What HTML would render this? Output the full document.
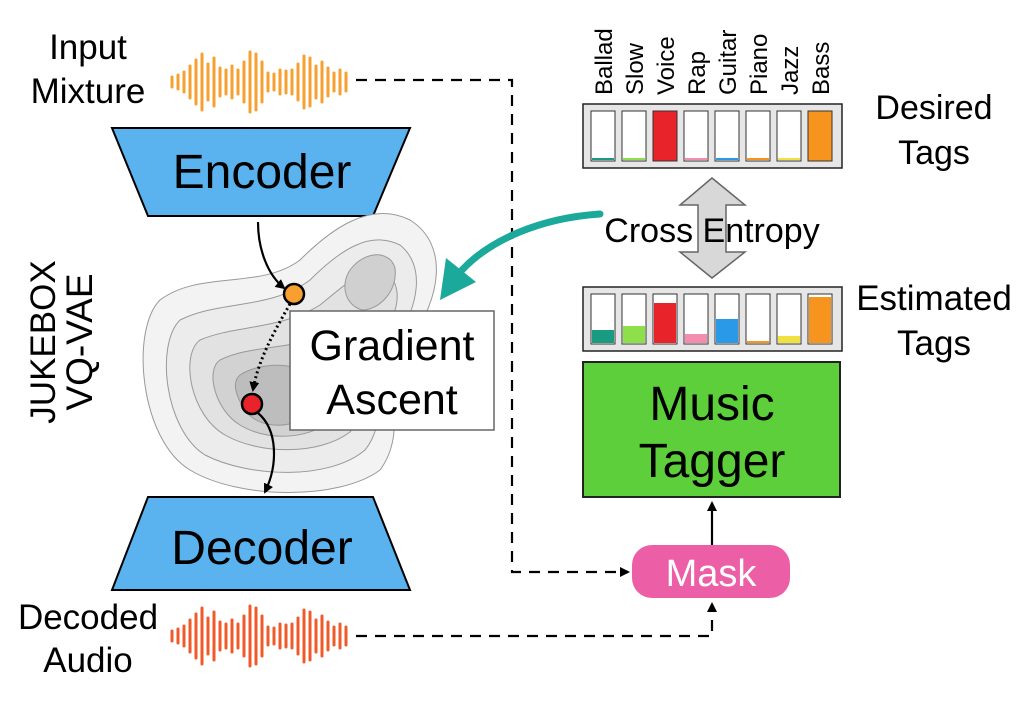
<!DOCTYPE html>
<html><head><meta charset="utf-8"><style>
html,body{margin:0;padding:0;background:#fff;}
svg{display:block;font-family:"Liberation Sans",sans-serif;}
</style></head><body>
<svg width="1020" height="702" viewBox="0 0 1020 702" xmlns="http://www.w3.org/2000/svg">
<defs>
<marker id="ah" markerWidth="10" markerHeight="10" refX="8" refY="5" orient="auto" markerUnits="userSpaceOnUse"><path d="M0,0 L10,5 L0,10 z" fill="#000"/></marker>
</defs>

<g font-size="35" text-anchor="middle">
<text x="88" y="59">Input</text>
<text x="88" y="103">Mixture</text>
<text x="88" y="629">Decoded</text>
<text x="88" y="672">Audio</text>
</g>

<g stroke="#f7a030" stroke-width="3" stroke-linecap="round">
<path d="M172,77v10M178,75v14M184,72v20M190,66v32M196,60v44M202,54v56M208,64v36M214,58v48M220,68v28M226,70v24M232,66v32M238,70v24M244,62v40M250,52v60M256,54v56M262,62v40M268,73v18M274,74v16M280,70v24M286,71v22M292,70v24M298,64v36M304,56v52M310,58v48M316,66v32M322,62v40M328,68v28M334,73v18M340,70v24M346,73v18"/>
</g>
<g stroke="#f05a28" stroke-width="3" stroke-linecap="round">
<path d="M172,631v10M178,629v14M184,626v20M190,620v32M196,614v44M202,608v56M208,618v36M214,612v48M220,622v28M226,624v24M232,620v32M238,624v24M244,616v40M250,606v60M256,608v56M262,616v40M268,627v18M274,628v16M280,624v24M286,625v22M292,624v24M298,618v36M304,610v52M310,612v48M316,620v32M322,616v40M328,622v28M334,627v18M340,624v24M346,627v18"/>
</g>

<g stroke="#000" stroke-width="2.2" fill="none" stroke-dasharray="11,8">
<path d="M356,80 H512 V572 H628" marker-end="url(#ah)"/>
<path d="M356,636 H712 V604" marker-end="url(#ah)"/>
</g>
<path d="M712,545 V503" stroke="#000" stroke-width="2.2" marker-end="url(#ah)"/>

<polygon points="112,128 410,128 373,216 148,216" fill="#5ab2ee" stroke="#000" stroke-width="2"/>
<text x="262" y="188" font-size="48" text-anchor="middle">Encoder</text>
<polygon points="148,497 373,497 410,590 112,590" fill="#5ab2ee" stroke="#000" stroke-width="2"/>
<text x="262" y="564" font-size="48" text-anchor="middle">Decoder</text>

<text transform="translate(55,342) rotate(-90)" font-size="35" text-anchor="middle">JUKEBOX</text>
<text transform="translate(92,342) rotate(-90)" font-size="37" text-anchor="middle">VQ-VAE</text>

<g stroke="#999" stroke-width="1" >
<path d="M160,300 C200,270 260,290 300,260 C330,230 370,200 410,220 C450,245 440,300 410,340 C380,380 410,430 380,470 C340,500 240,500 190,470 C140,440 130,330 160,300 z" fill="#f3f3f3"/>
<path d="M180,320 C220,300 270,310 310,280 C340,250 370,230 400,245 C425,265 420,305 395,340 C370,375 390,420 365,450 C330,480 250,478 205,455 C165,430 155,345 180,320 z" fill="#ececec"/>
<path d="M200,340 C235,325 280,330 320,305 C345,285 370,260 390,275 C405,295 395,320 375,345 C355,370 370,410 350,432 C320,455 260,455 225,435 C190,415 180,355 200,340 z" fill="#e2e2e2"/>
<path d="M220,360 C250,345 290,350 325,335 C345,330 355,345 345,365 C335,385 345,410 325,425 C300,440 265,440 240,425 C215,410 205,370 220,360 z" fill="#d2d2d2"/>
<path d="M240,375 C260,362 295,362 310,375 C322,390 318,410 300,420 C280,430 255,425 245,410 C235,395 232,382 240,375 z" fill="#bdbdbd"/>
<path d="M350,270 C365,250 390,250 395,268 C398,290 380,310 362,310 C345,305 340,285 350,270 z" fill="#d0d0d0"/>
</g>

<path d="M258,222 C258,250 268,275 284,288" stroke="#000" stroke-width="2.2" fill="none" marker-end="url(#ah)"/>
<path d="M290,304 C275,330 258,360 253,390" stroke="#000" stroke-width="3" fill="none" stroke-dasharray="2,3" marker-end="url(#ah)"/>
<path d="M258,413 C278,430 278,465 265,492" stroke="#000" stroke-width="2.2" fill="none" marker-end="url(#ah)"/>
<circle cx="294" cy="294" r="10" fill="#f7a030" stroke="#000" stroke-width="2.5"/>
<circle cx="252" cy="404" r="10" fill="#e8232a" stroke="#000" stroke-width="2.5"/>

<rect x="290" y="311" width="204" height="119" fill="#fff" stroke="#666" stroke-width="1.5"/>
<text x="392" y="360" font-size="43" text-anchor="middle">Gradient</text>
<text x="392" y="414" font-size="43" text-anchor="middle">Ascent</text>

<path d="M600,214 C540,218 490,240 462,270" stroke="#1aa99a" stroke-width="7" fill="none" stroke-linecap="round"/>
<polygon points="440,300 446,258 476,282" fill="#1aa99a"/>

<g font-size="24">
<text transform="translate(612,95) rotate(-90)">Ballad</text>
<text transform="translate(643,95) rotate(-90)">Slow</text>
<text transform="translate(674,95) rotate(-90)">Voice</text>
<text transform="translate(705,95) rotate(-90)">Rap</text>
<text transform="translate(736,95) rotate(-90)">Guitar</text>
<text transform="translate(767,95) rotate(-90)">Piano</text>
<text transform="translate(798,95) rotate(-90)">Jazz</text>
<text transform="translate(829,95) rotate(-90)">Bass</text>
</g>

<rect x="583" y="104" width="259" height="64" fill="#e6e6e6" stroke="#222" stroke-width="1.5"/>
<g stroke="#333" stroke-width="1">
<rect x="591" y="111" width="24" height="50" fill="#fff"/>
<rect x="622" y="111" width="24" height="50" fill="#fff"/>
<rect x="653" y="111" width="24" height="50" fill="#e8232a"/>
<rect x="684" y="111" width="24" height="50" fill="#fff"/>
<rect x="715" y="111" width="24" height="50" fill="#fff"/>
<rect x="746" y="111" width="24" height="50" fill="#fff"/>
<rect x="777" y="111" width="24" height="50" fill="#fff"/>
<rect x="808" y="111" width="24" height="50" fill="#f7941d"/>
</g>
<rect x="592" y="158" width="22" height="2" fill="#1a9a80"/>
<rect x="623" y="158" width="22" height="2" fill="#8ee04a"/>
<rect x="685" y="158" width="22" height="2" fill="#f48cb0"/>
<rect x="716" y="158" width="22" height="2" fill="#2a9ae8"/>
<rect x="747" y="158" width="22" height="2" fill="#f7941d"/>
<rect x="778" y="158" width="22" height="2" fill="#f0e040"/>

<text x="934" y="119" font-size="34" text-anchor="middle">Desired</text>
<text x="934" y="164" font-size="34" text-anchor="middle">Tags</text>

<polygon points="712,178 745,205 726,205 726,252 745,252 712,278 680,252 698,252 698,205 680,205" fill="#d8d8d8" stroke="#666" stroke-width="1.5"/>
<text x="712" y="242" font-size="34" text-anchor="middle">Cross Entropy</text>

<rect x="583" y="287" width="259" height="64" fill="#e6e6e6" stroke="#222" stroke-width="1.5"/>
<g stroke="#333" stroke-width="1">
<rect x="591" y="294" width="24" height="50" fill="#fff"/>
<rect x="622" y="294" width="24" height="50" fill="#fff"/>
<rect x="653" y="294" width="24" height="50" fill="#fff"/>
<rect x="684" y="294" width="24" height="50" fill="#fff"/>
<rect x="715" y="294" width="24" height="50" fill="#fff"/>
<rect x="746" y="294" width="24" height="50" fill="#fff"/>
<rect x="777" y="294" width="24" height="50" fill="#fff"/>
<rect x="808" y="294" width="24" height="50" fill="#fff"/>
</g>
<rect x="592" y="330" width="22" height="13" fill="#1a9a80"/>
<rect x="623" y="326" width="22" height="17" fill="#8ee04a"/>
<rect x="654" y="303" width="22" height="40" fill="#e8232a"/>
<rect x="685" y="334" width="22" height="9" fill="#f48cb0"/>
<rect x="716" y="319" width="22" height="24" fill="#2a9ae8"/>
<rect x="747" y="341" width="22" height="2" fill="#f7941d"/>
<rect x="778" y="336" width="22" height="7" fill="#f0e040"/>
<rect x="809" y="297" width="22" height="46" fill="#f7941d"/>

<text x="934" y="310" font-size="35" text-anchor="middle">Estimated</text>
<text x="934" y="355" font-size="35" text-anchor="middle">Tags</text>

<rect x="583" y="362" width="257" height="135" fill="#5ccf3a" stroke="#222" stroke-width="2"/>
<text x="712" y="420" font-size="48" text-anchor="middle">Music</text>
<text x="712" y="477" font-size="48" text-anchor="middle">Tagger</text>

<rect x="632" y="545" width="158" height="53" rx="20" fill="#ec5fa6"/>
<text x="711" y="586" font-size="38" text-anchor="middle" fill="#fff">Mask</text>
</svg>
</body></html>
